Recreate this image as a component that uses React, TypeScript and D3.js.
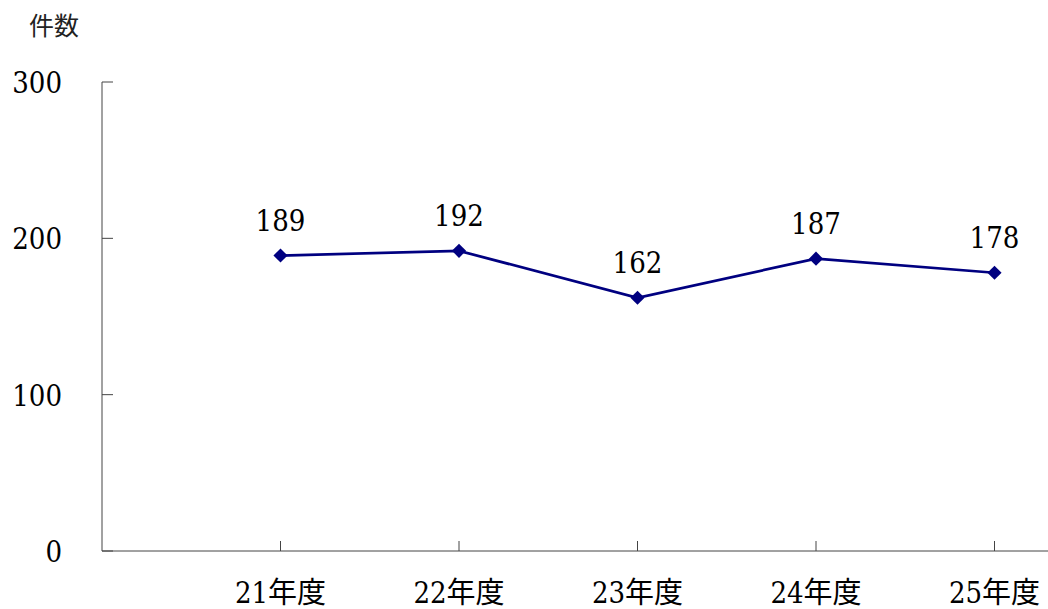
import React from "react";
import * as d3 from "d3";

const categories = ["21年度", "22年度", "23年度", "24年度", "25年度"];
const counts = [189, 192, 162, 187, 178];
const yTicks = [0, 100, 200, 300];
const yTitle = "件数";

const W = 1048;
const H = 609;
const axisX = 102;
const axisY = 551;
const slot = 178.5;

const numFont = "'DejaVu Serif', 'Noto Sans CJK JP', serif";
const numStyle: React.CSSProperties = { fontStretch: "condensed" };

export default function App() {
  // one empty slot before the first category, so points sit at slot 1..5
  const x = d3.scaleLinear().domain([0, 1]).range([axisX, axisX + slot]);
  const y = d3.scaleLinear().domain([0, 300]).range([axisY, 82]);

  const pts = counts.map((v, i) => [x(i + 1), y(v)] as [number, number]);
  const line = d3.line()(pts) || "";
  const marker = d3.symbol().type(d3.symbolSquare).size(100)() || "";

  return (
    <svg
      width={W}
      height={H}
      style={{ position: "absolute", left: 0, top: 0, background: "#fff" }}
    >
      <text
        x={29}
        y={35}
        fontFamily="'Noto Sans CJK JP', sans-serif"
        fontSize={25}
        fill="#222"
      >
        {yTitle}
      </text>

      {/* y axis */}
      <line x1={axisX} x2={axisX} y1={y(300)} y2={axisY} stroke="#444" strokeWidth={1} />
      {yTicks.map((t) => (
        <g key={t}>
          <line x1={axisX} x2={axisX + 11} y1={y(t)} y2={y(t)} stroke="#444" strokeWidth={1} />
          <text
            x={62}
            y={y(t) + 11}
            textAnchor="end"
            fontFamily={numFont}
            fontSize={29}
            style={numStyle}
            fill="#000"
          >
            {t}
          </text>
        </g>
      ))}

      {/* x axis */}
      <line x1={axisX} x2={W} y1={axisY} y2={axisY} stroke="#444" strokeWidth={1} />
      {categories.map((c, i) => (
        <g key={c}>
          <line
            x1={x(i + 1)}
            x2={x(i + 1)}
            y1={axisY}
            y2={axisY - 10}
            stroke="#444"
            strokeWidth={1}
          />
          <text
            x={x(i + 1)}
            y={603}
            textAnchor="middle"
            fontFamily={numFont}
            fontSize={29}
            style={numStyle}
            fill="#000"
          >
            {c}
          </text>
        </g>
      ))}

      {/* series */}
      <path d={line} fill="none" stroke="#000080" strokeWidth={2.7} />
      {pts.map(([px, py], i) => (
        <g key={i}>
          <path d={marker} transform={`translate(${px},${py}) rotate(45)`} fill="#000080" />
          <text
            x={px}
            y={py - 25}
            textAnchor="middle"
            fontFamily={numFont}
            fontSize={29}
            style={numStyle}
            fill="#000"
          >
            {counts[i]}
          </text>
        </g>
      ))}
    </svg>
  );
}
